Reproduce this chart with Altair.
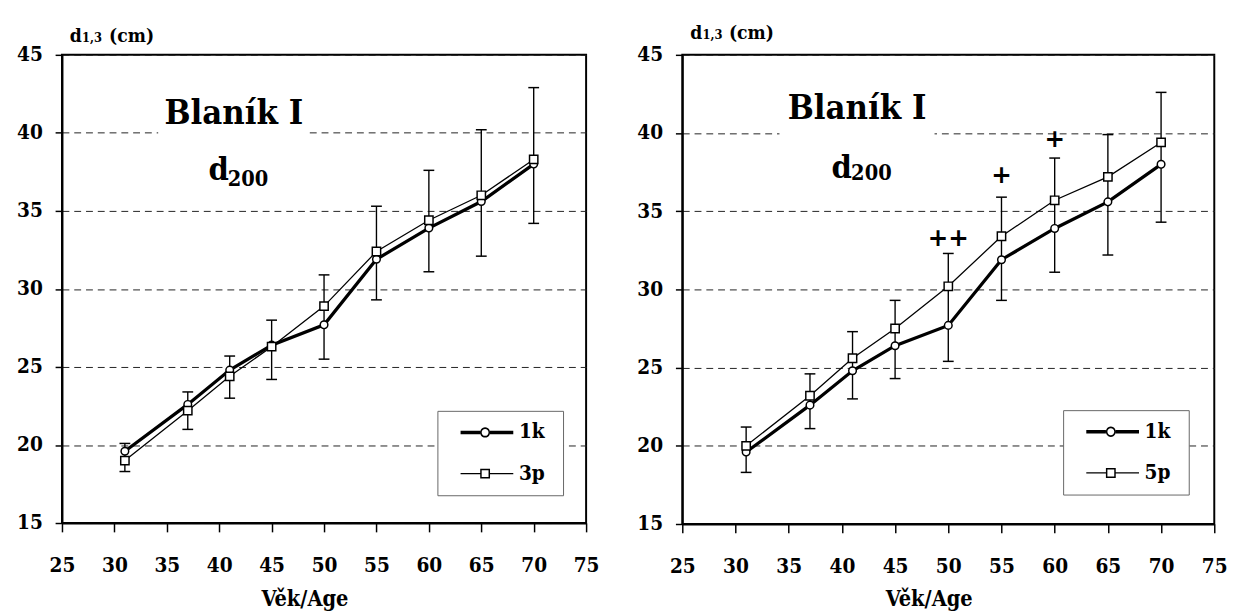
import altair as alt
import pandas as pd

# ---------------- data ----------------
ages = [31, 37, 41, 45, 50, 55, 60, 65, 70]
d_1k = [19.6, 22.6, 24.8, 26.4, 27.7, 31.9, 33.9, 35.6, 38.0]
d_3p = [19.0, 22.2, 24.4, 26.3, 28.9, 32.4, 34.4, 36.0, 38.3]
d_5p = [20.0, 23.2, 25.6, 27.5, 30.2, 33.4, 35.7, 37.2, 39.4]

left_err_hi = [20.1, 23.4, 25.7, 28.0, 30.9, 35.3, 37.6, 40.2, 42.9]
left_err_lo = [18.3, 21.0, 23.0, 24.2, 25.5, 29.3, 31.1, 32.1, 34.2]
right_err_hi = [21.2, 24.6, 27.3, 29.3, 32.3, 35.9, 38.4, 39.9, 42.6]
right_err_lo = [18.3, 21.1, 23.0, 24.3, 25.4, 29.3, 31.1, 32.2, 34.3]

sig_ages = [50, 55, 60]
sig_vals = [33.3, 37.3, 39.6]
sig_marks = ["++", "+", "+"]

x_ticks = [25, 30, 35, 40, 45, 50, 55, 60, 65, 70, 75]
y_ticks = [15, 20, 25, 30, 35, 40, 45]

title_main = "Blaník I"
title_d = "d"
title_sub = "200"
ytitle_parts = ["d", "1,3", "(cm)"]
xtitle = "Věk/Age"

SERIF = "DejaVu Serif Condensed, DejaVu Serif"
SANS = "DejaVu Sans, Liberation Sans, sans-serif"

# ---------------- legend symbols (line + marker) ----------------
U = 13.0  # px per path unit (symbol size 26^2)


def _f(v):
    return f"{v:.3f}"


def legend_path(kind, half):
    a, b = 1.6 / U, 55.3 / U
    cx, R, r = 26.6 / U, 5.0 / U, 3.5 / U
    far = 96.8 / U
    p = f"M-1,-1M-1,1M{_f(far)},0"
    p += f"M{_f(a)},{_f(-half)}H{_f(cx - R)}V{_f(half)}H{_f(a)}Z"
    p += f"M{_f(cx + R)},{_f(-half)}H{_f(b)}V{_f(half)}H{_f(cx + R)}Z"
    if kind == "circle":
        p += (f"M{_f(cx + R)},0A{_f(R)},{_f(R)},0,1,1,{_f(cx - R)},0"
              f"A{_f(R)},{_f(R)},0,1,1,{_f(cx + R)},0Z")
        p += (f"M{_f(cx + r)},0A{_f(r)},{_f(r)},0,1,0,{_f(cx - r)},0"
              f"A{_f(r)},{_f(r)},0,1,0,{_f(cx + r)},0Z")
    else:
        p += f"M{_f(cx - R)},{_f(-R)}H{_f(cx + R)}V{_f(R)}H{_f(cx - R)}Z"
        p += f"M{_f(cx - r)},{_f(-r)}V{_f(r)}H{_f(cx + r)}V{_f(-r)}Z"
    return p


PATH_1K = legend_path("circle", 1.75 / U)
PATH_THIN = legend_path("square", 0.65 / U)


def panel(name2, vals2, err_hi, err_lo, width, height, L, sig=False):
    df = pd.DataFrame({
        "age": ages * 2,
        "value": d_1k + vals2,
        "series": ["1k"] * len(ages) + [name2] * len(ages),
    })
    err = pd.DataFrame({"age": ages, "lo": err_lo, "hi": err_hi})

    xs = alt.Scale(domain=[25, 75], nice=False, zero=False)
    ys = alt.Scale(domain=[15, 45], nice=False, zero=False)
    xax = alt.Axis(values=x_ticks, tickSize=9, tickWidth=1.5, tickColor="black",
                   domainColor="black", domainWidth=2, labelFont=SERIF,
                   labelFontSize=21, labelFontWeight="bold", labelColor="black",
                   labelPadding=23, labelFlush=False, labelOverlap=False,
                   grid=False, title=xtitle, titleFont=SERIF, titleFontSize=22,
                   titleFontWeight="bold", titleColor="black",
                   titleX=width / 2 - 20, titleY=L["xt_y"],
                   titleBaseline="alphabetic", titleAlign="center")
    yax = alt.Axis(values=y_ticks, tickSize=7, tickWidth=1.5, tickColor="black",
                   domainColor="black", domainWidth=2, labelFont=SERIF,
                   labelFontSize=21, labelFontWeight="bold", labelColor="black",
                   labelPadding=13, grid=True, gridDash=[7, 5], gridColor="#222",
                   gridWidth=1, title=None)
    X = alt.X("age:Q", scale=xs, axis=xax)
    Y = alt.Y("value:Q", scale=ys, axis=yax)

    base_err = alt.Chart(err)
    rules = base_err.mark_rule(color="black", strokeWidth=1.4).encode(
        x=alt.X("age:Q", scale=xs, axis=xax),
        y=alt.Y("lo:Q", scale=ys, axis=yax), y2="hi:Q")
    cap_hi = base_err.mark_tick(color="black", orient="horizontal", size=11,
                                thickness=1.5, opacity=1).encode(
        x=alt.X("age:Q", scale=xs), y=alt.Y("hi:Q", scale=ys))
    cap_lo = base_err.mark_tick(color="black", orient="horizontal", size=11,
                                thickness=1.5, opacity=1).encode(
        x=alt.X("age:Q", scale=xs), y=alt.Y("lo:Q", scale=ys))

    base = alt.Chart(df)
    line1 = base.transform_filter(alt.datum.series == "1k").mark_line(
        color="black", strokeWidth=3.3).encode(x=X, y=Y)
    line2 = base.transform_filter(alt.datum.series == name2).mark_line(
        color="black", strokeWidth=1.3).encode(x=X, y=Y)
    pts1 = base.transform_filter(alt.datum.series == "1k").mark_point(
        shape="circle", filled=True, fill="white", stroke="black",
        strokeWidth=1.5, size=60, opacity=1).encode(x=X, y=Y)
    pts2 = base.transform_filter(alt.datum.series == name2).mark_point(
        shape="square", filled=True, fill="white", stroke="black",
        strokeWidth=1.5, size=72, opacity=1).encode(x=X, y=Y)

    one = alt.Chart(pd.DataFrame({"t": [title_main]}))
    blank = one.mark_rect(color="white").encode(
        x=alt.value(L["gap"][0]), x2=alt.value(L["gap"][1]),
        y=alt.value(40), y2=alt.value(94))
    t_main = one.mark_text(font=SERIF, fontSize=35, fontWeight="bold",
                           align="center", baseline="alphabetic",
                           color="black").encode(
        text="t:N", x=alt.value(L["main"][0]), y=alt.value(L["main"][1]))
    t_d = alt.Chart(pd.DataFrame({"t": [title_d]})).mark_text(
        font=SERIF, fontSize=33, fontWeight="bold", align="left",
        baseline="alphabetic", color="black").encode(
        text="t:N", x=alt.value(L["d"][0]), y=alt.value(L["d"][1]))
    t_sub = alt.Chart(pd.DataFrame({"t": [title_sub]})).mark_text(
        font=SERIF, fontSize=22, fontWeight="bold", align="left",
        baseline="alphabetic", color="black").encode(
        text="t:N", x=alt.value(L["sub"][0]), y=alt.value(L["sub"][1]))

    yt = []
    for txt, xx, fs in zip(ytitle_parts, L["yt_x"], [19.5, 13, 19.5]):
        yt.append(alt.Chart(pd.DataFrame({"t": [txt]})).mark_text(
            font=SERIF, fontSize=fs, fontWeight="bold", align="left",
            baseline="alphabetic", color="black").encode(
            text="t:N", x=alt.value(xx), y=alt.value(L["yt_y"])))

    legend_src = base.transform_filter("false").mark_point(
        filled=True, color="black", strokeWidth=0, opacity=1).encode(
        x=X, y=Y,
        shape=alt.Shape("series:N", scale=alt.Scale(
            domain=["1k", name2], range=[PATH_1K, PATH_THIN]),
            legend=alt.Legend(
                title=None, orient="none", legendX=L["leg"][0],
                legendY=L["leg"][1], symbolSize=U * U * 4,
                symbolFillColor="black", symbolStrokeWidth=0,
                symbolOpacity=1, labelFont=SERIF, labelFontSize=21,
                labelFontWeight="bold", labelColor="black", labelOffset=48,
                padding=9, rowPadding=16, strokeColor="#666",
                fillColor="white")))

    layers = [rules, cap_hi, cap_lo, line1, line2, pts1, pts2, blank,
              t_main, t_d, t_sub] + yt
    if sig:
        sdf = pd.DataFrame({"age": sig_ages, "value": sig_vals, "m": sig_marks})
        layers.append(alt.Chart(sdf).mark_text(
            font=SANS, fontSize=25, fontWeight="bold",
            baseline="middle", align="center", color="black").encode(
            x=X, y=Y, text="m:N"))
    layers.append(legend_src)
    return alt.layer(*layers).properties(width=width, height=height)


left = panel("3p", d_3p, left_err_hi, left_err_lo, 534, 477, {
    "gap": (98, 249), "main": (175, 70), "d": (149.3, 128),
    "sub": (169, 133.5), "yt_x": (8, 20.5, 48), "yt_y": -13,
    "leg": (382.5, 362.7), "xt_y": 84})
right = panel("5p", d_5p, right_err_hi, right_err_lo, 542, 478, {
    "gap": (99, 257), "main": (178, 65.5), "d": (152, 125.3),
    "sub": (172, 128), "yt_x": (8, 20.5, 47.5), "yt_y": -16.3,
    "leg": (388, 362), "xt_y": 83}, sig=True)

chart = alt.hconcat(left, right, spacing=35).resolve_scale(
    shape="independent").resolve_legend(shape="independent").properties(
    padding={"left": 7, "top": 8, "right": 0, "bottom": 0},
    background="white",
).configure_view(stroke="black", strokeWidth=2)

chart.save("out.html", embed_options={"renderer": "svg", "actions": False})
